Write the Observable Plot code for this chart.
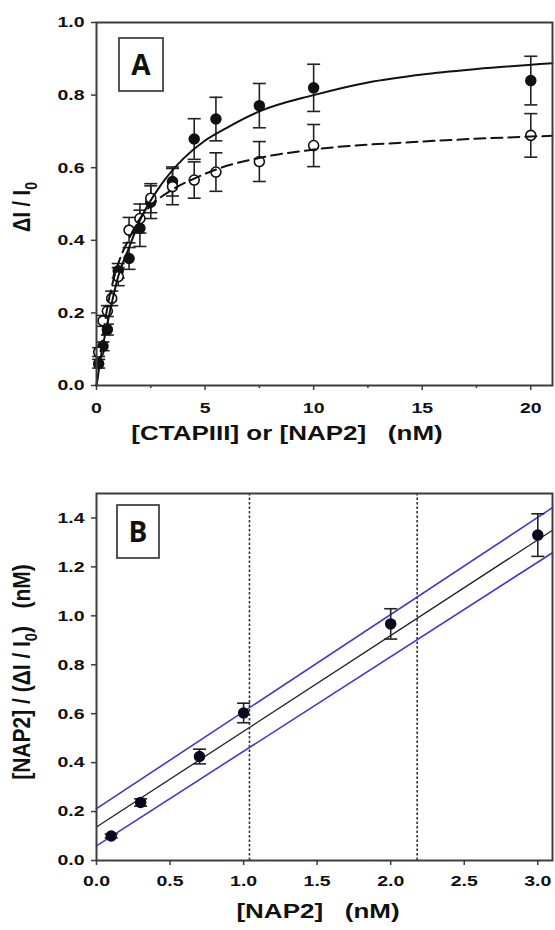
<!DOCTYPE html>
<html><head><meta charset="utf-8">
<script src="https://cdn.jsdelivr.net/npm/d3@7"></script>
<script src="https://cdn.jsdelivr.net/npm/@observablehq/plot@0.6"></script>
<style>
html,body{margin:0;padding:0;background:#fff;}
#chart svg{display:block;}
</style></head><body><div id="chart"></div>
<script>
// ---------- Panel A data ----------
const aFilledX = [0.1, 0.3, 0.5, 1.0, 1.5, 2.0, 2.5, 3.5, 4.5, 5.5, 7.5, 10, 20];
const aFilledY = [0.06, 0.108, 0.154, 0.316, 0.35, 0.433, 0.505, 0.562, 0.679, 0.734, 0.771, 0.82, 0.84];
const aFilledErr = [0.012, 0.012, 0.015, 0.02, 0.03, 0.05, 0.045, 0.04, 0.056, 0.06, 0.061, 0.065, 0.067];

const aOpenX = [0.1, 0.3, 0.5, 0.7, 1.0, 1.5, 2.0, 2.5, 3.5, 4.5, 5.5, 7.5, 10, 20];
const aOpenY = [0.092, 0.178, 0.205, 0.24, 0.30, 0.428, 0.46, 0.516, 0.548, 0.566, 0.588, 0.617, 0.661, 0.689];
const aOpenErr = [0.012, 0.015, 0.015, 0.02, 0.025, 0.035, 0.04, 0.04, 0.05, 0.05, 0.053, 0.055, 0.058, 0.06];

// fitted curves
const aSolidCurveX = [0, 0.25, 0.5, 1, 1.5, 2, 3, 4, 5, 6, 7.5, 10, 12.5, 15, 17.5, 21];
const aSolidCurveY = [0, 0.095, 0.17, 0.30, 0.38, 0.455, 0.555, 0.625, 0.675, 0.71, 0.755, 0.80, 0.835, 0.857, 0.872, 0.888];
const aDashCurveX = [0, 0.25, 0.5, 1, 1.5, 2, 2.5, 3.5, 4.5, 5.5, 7.5, 10, 15, 21];
const aDashCurveY = [0, 0.12, 0.215, 0.335, 0.405, 0.46, 0.495, 0.54, 0.57, 0.595, 0.627, 0.65, 0.672, 0.688];

const aXTicks = [0, 5, 10, 15, 20];
const aXMinorTicks = [2.5, 7.5, 12.5, 17.5];
const aYTicks = [0, 0.2, 0.4, 0.6, 0.8, 1.0];

// ---------- Panel B data ----------
const bX = [0.1, 0.3, 0.7, 1.0, 2.0, 3.0];
const bY = [0.10, 0.237, 0.425, 0.603, 0.967, 1.33];
const bErr = [0.008, 0.015, 0.03, 0.04, 0.062, 0.087];

const bFitX = [0, 3.1];
const bFitY = [0.137, 1.35];
const bUpperY = [0.212, 1.442];
const bLowerY = [0.06, 1.258];
const bVLines = [1.04, 2.18];

const bXTicks = [0, 0.5, 1.0, 1.5, 2.0, 2.5, 3.0];
const bYTicks = [0, 0.2, 0.4, 0.6, 0.8, 1.0, 1.2, 1.4];

// ---------- helpers ----------
const FONT = "'Liberation Sans', Arial, Helvetica, sans-serif";
const INK = "#3c3c3c";
const STRETCH = 1.3;
const capSymbol = {draw(ctx) { ctx.moveTo(-6.5, 0); ctx.lineTo(6.5, 0); }};

const rows = (xs, ys, es) => xs.map((x, i) => ({x, y: ys[i], e: es ? es[i] : 0}));
const pts = (xs, ys) => xs.map((x, i) => ({x, y: ys[i]}));

function errorMarks(data) {
  return [
    Plot.ruleX(data, {x: "x", y1: d => d.y - d.e, y2: d => d.y + d.e, stroke: "#222", strokeWidth: 1.6}),
    Plot.dot(data, {x: "x", y: d => d.y + d.e, symbol: capSymbol, fill: "none", stroke: "#222", strokeWidth: 1.6}),
    Plot.dot(data, {x: "x", y: d => d.y - d.e, symbol: capSymbol, fill: "none", stroke: "#222", strokeWidth: 1.6})
  ];
}

// widen tick labels horizontally (the reference figure is horizontally stretched)
function stretchTicks(svg) {
  d3.select(svg).selectAll('[aria-label="x-axis tick label"] text, [aria-label="y-axis tick label"] text')
    .each(function () {
      const xa = this.getAttribute("x");
      const x = xa == null ? 0 : +xa;
      if (xa != null && !isNaN(x)) this.setAttribute("x", x / STRETCH);
      const tr = this.getAttribute("transform") || "";
      this.setAttribute("transform", `${tr} scale(${STRETCH},1)`);
    });
}
function addYLabel(svg, cx, cy, parts, size) {
  const t = d3.select(svg).append("text")
    .attr("transform", `translate(${cx},${cy}) scale(1.15,1) rotate(-90)`)
    .attr("text-anchor", "middle")
    .attr("font-family", FONT).attr("font-weight", "bold").attr("font-size", size)
    .attr("fill", "#111").style("white-space", "pre");
  parts.forEach(p => {
    const ts = t.append("tspan").text(p.t);
    if (p.sub) ts.attr("font-size", size * 0.7).attr("dy", 6);
    if (p.unsub) ts.attr("dy", -6);
  });
}
function addXLabel(svg, cx, cy, txt) {
  d3.select(svg).append("text")
    .attr("transform", `translate(${cx},${cy}) scale(${STRETCH},1)`)
    .attr("text-anchor", "middle")
    .attr("font-family", FONT).attr("font-weight", "bold").attr("font-size", 20)
    .attr("fill", "#111").style("white-space", "pre")
    .text(txt);
}
function addPanelBox(svg, x, y, w, h, letter) {
  const g = d3.select(svg).append("g");
  g.append("rect").attr("x", x).attr("y", y).attr("width", w).attr("height", h)
    .attr("fill", "white").attr("stroke", "#444").attr("stroke-width", 1.8);
  g.append("text").attr("x", x + w / 2).attr("y", y + h / 2).attr("dy", "0.36em")
    .attr("text-anchor", "middle").attr("font-family", "'Open Sans', " + FONT)
    .attr("font-weight", "bold").attr("font-size", 28).attr("fill", "#111").text(letter);
}

const chart = document.getElementById("chart");
const baseStyle = {fontFamily: FONT, fontSize: "15px", fontWeight: "bold", color: "#111", background: "white"};

// ---------- Panel A ----------
const filled = rows(aFilledX, aFilledY, aFilledErr);
const open = rows(aOpenX, aOpenY, aOpenErr);

const plotA = Plot.plot({
  width: 555, height: 448,
  marginLeft: 96, marginRight: 3, marginTop: 22, marginBottom: 63,
  style: baseStyle,
  x: {domain: [0, 21]},
  y: {domain: [0, 1]},
  marks: [
    Plot.axisX({ticks: aXTicks, tickSize: 5, tickPadding: 12, tickFormat: d => String(d), stroke: INK, fill: "#111", strokeWidth: 1.5, label: null}),
    Plot.axisX({ticks: aXMinorTicks, tickSize: 3, stroke: INK, strokeWidth: 1.5, text: null, label: null}),
    Plot.axisY({ticks: aYTicks, tickSize: 5, tickPadding: 7, tickFormat: d3.format(".1f"), stroke: INK, fill: "#111", strokeWidth: 1.5, label: null}),
    ...errorMarks(filled),
    ...errorMarks(open),
    Plot.dot(filled, {x: "x", y: "y", r: 5, fill: "#111", stroke: "#111"}),
    Plot.dot(open, {x: "x", y: "y", r: 5, fill: "white", stroke: "#111", strokeWidth: 1.6}),
    Plot.line(pts(aSolidCurveX, aSolidCurveY), {x: "x", y: "y", curve: "monotone-x", stroke: "#111", strokeWidth: 2}),
    Plot.line(pts(aDashCurveX, aDashCurveY), {x: "x", y: "y", curve: "monotone-x", stroke: "#111", strokeWidth: 2, strokeDasharray: "11,6"}),
    Plot.frame({stroke: INK, strokeWidth: 2})
  ]
});
stretchTicks(plotA);
addPanelBox(plotA, 119, 38, 44, 53, "A");
addYLabel(plotA, 30, 207, [{t: "ΔI / I"}, {t: "0", sub: true}], 20);
addXLabel(plotA, 287, 440, "[CTAPIII] or [NAP2]   (nM)");
chart.appendChild(plotA);

// ---------- Panel B ----------
const bData = rows(bX, bY, bErr);
const plotB = Plot.plot({
  width: 555, height: 482,
  marginLeft: 96, marginRight: 3, marginTop: 45, marginBottom: 70,
  style: baseStyle,
  x: {domain: [0, 3.1]},
  y: {domain: [0, 1.5]},
  marks: [
    Plot.axisX({ticks: bXTicks, tickSize: 5, tickPadding: 10, tickFormat: d3.format(".1f"), stroke: INK, fill: "#111", strokeWidth: 1.5, label: null}),
    Plot.axisY({ticks: bYTicks, tickSize: 5, tickPadding: 7, tickFormat: d3.format(".1f"), stroke: INK, fill: "#111", strokeWidth: 1.5, label: null}),
    Plot.ruleX(bVLines, {stroke: "#333", strokeWidth: 1.6, strokeDasharray: "2.5,2"}),
    Plot.line(pts(bFitX, bUpperY), {x: "x", y: "y", stroke: "#3b3bcf", strokeWidth: 1.6}),
    Plot.line(pts(bFitX, bLowerY), {x: "x", y: "y", stroke: "#3b3bcf", strokeWidth: 1.6}),
    Plot.line(pts(bFitX, bFitY), {x: "x", y: "y", stroke: "#222", strokeWidth: 1.3}),
    ...errorMarks(bData),
    Plot.dot(bData, {x: "x", y: "y", r: 5, fill: "#0a0a1e", stroke: "#0a0a1e"}),
    Plot.frame({stroke: INK, strokeWidth: 2})
  ]
});
stretchTicks(plotB);
addPanelBox(plotB, 117, 57, 42, 53, "B");
addYLabel(plotB, 30, 224, [{t: "[NAP2] / (ΔI / I"}, {t: "0", sub: true}, {t: ")   (nM)", unsub: true}], 21);
addXLabel(plotB, 318, 470, "[NAP2]   (nM)");
chart.appendChild(plotB);
</script>
</body></html>
